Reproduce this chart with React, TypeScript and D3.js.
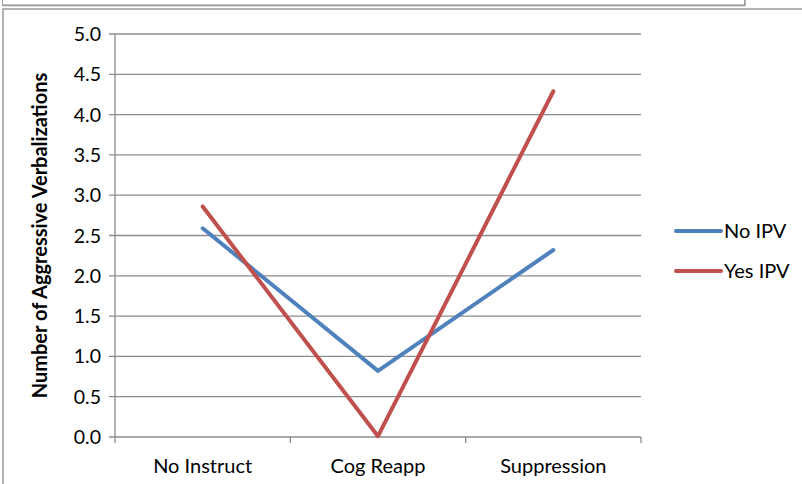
import React from "react";
import * as d3 from "d3";

const categories = ["No Instruct", "Cog Reapp", "Suppression"];
const noIPV = [2.59, 0.82, 2.32];
const yesIPV = [2.86, 0.01, 4.29];
const yTicks = [0, 0.5, 1, 1.5, 2, 2.5, 3, 3.5, 4, 4.5, 5];
const seriesNames = ["No IPV", "Yes IPV"];
const seriesColors = ["#4F81BD", "#C0504D"];

const W = 802;
const H = 484;
const plot = { left: 115, right: 641, top: 34, bottom: 437 };
const FONT = "Lato, 'Open Sans', sans-serif";

export default function App() {
  const x = d3
    .scaleBand<string>()
    .domain(categories)
    .range([plot.left, plot.right])
    .padding(0);
  const y = d3.scaleLinear().domain([0, 5]).range([plot.bottom, plot.top]);
  const line = d3
    .line<number>()
    .x((_, i) => (x(categories[i]) as number) + x.bandwidth() / 2)
    .y((d) => y(d));

  const series = [noIPV, yesIPV];
  const tickEdges = [...categories.map((c) => x(c) as number), plot.right];

  return (
    <svg
      width={W}
      height={H}
      style={{ position: "absolute", left: 0, top: 0, background: "#fff" }}
      fontFamily={FONT}
    >
      {/* frames */}
      <rect x={2.5} y={-4} width={742} height={9} fill="#fff" stroke="#a6a6a6" strokeWidth={1} />
      <line x1={2} x2={745} y1={5.5} y2={5.5} stroke="#9a9a9a" strokeWidth={1.5} />
      <line x1={745} x2={745} y1={0} y2={6} stroke="#9a9a9a" strokeWidth={1.5} />
      <rect x={3} y={9} width={W + 10} height={H + 10} fill="none" stroke="#9a9a9a" strokeWidth={1.5} />

      {/* gridlines */}
      {yTicks.map((t) => (
        <line
          key={`g${t}`}
          x1={plot.left - 6}
          x2={plot.right}
          y1={y(t)}
          y2={y(t)}
          stroke="#8c8c8c"
          strokeWidth={1.3}
        />
      ))}
      {/* y axis */}
      <line x1={plot.left} x2={plot.left} y1={plot.top} y2={plot.bottom} stroke="#8c8c8c" strokeWidth={1.3} />
      {yTicks.map((t) => (
        <text
          key={`yl${t}`}
          x={101}
          y={y(t)}
          dy="0.36em"
          textAnchor="end"
          fontSize={19.5}
          fill="#000"
        >
          {d3.format(".1f")(t)}
        </text>
      ))}
      {/* x axis ticks */}
      {tickEdges.map((e, i) => (
        <line key={`xt${i}`} x1={e} x2={e} y1={plot.bottom} y2={plot.bottom + 6} stroke="#8c8c8c" strokeWidth={1.3} />
      ))}
      {categories.map((c) => (
        <text
          key={c}
          x={(x(c) as number) + x.bandwidth() / 2}
          y={473}
          textAnchor="middle"
          fontSize={20}
          fill="#000"
        >
          {c}
        </text>
      ))}

      {/* axis title */}
      <text
        transform={`translate(47,${(plot.top + plot.bottom) / 2}) rotate(-90)`}
        textAnchor="middle"
        fontSize={20}
        fontWeight="bold"
        fill="#000"
      >
        Number of Aggressive Verbalizations
      </text>

      {/* series lines */}
      {series.map((s, i) => (
        <path
          key={seriesNames[i]}
          d={line(s) || ""}
          fill="none"
          stroke={seriesColors[i]}
          strokeWidth={4}
          strokeLinecap="round"
          strokeLinejoin="round"
        />
      ))}

      {/* legend */}
      {seriesNames.map((n, i) => (
        <g key={`lg${n}`} transform={`translate(0,${231 + i * 40})`}>
          <line x1={676} x2={721} y1={0} y2={0} stroke={seriesColors[i]} strokeWidth={4} strokeLinecap="round" />
          <text x={724} y={0} dy="0.36em" fontSize={20} fill="#000">
            {n}
          </text>
        </g>
      ))}
    </svg>
  );
}
